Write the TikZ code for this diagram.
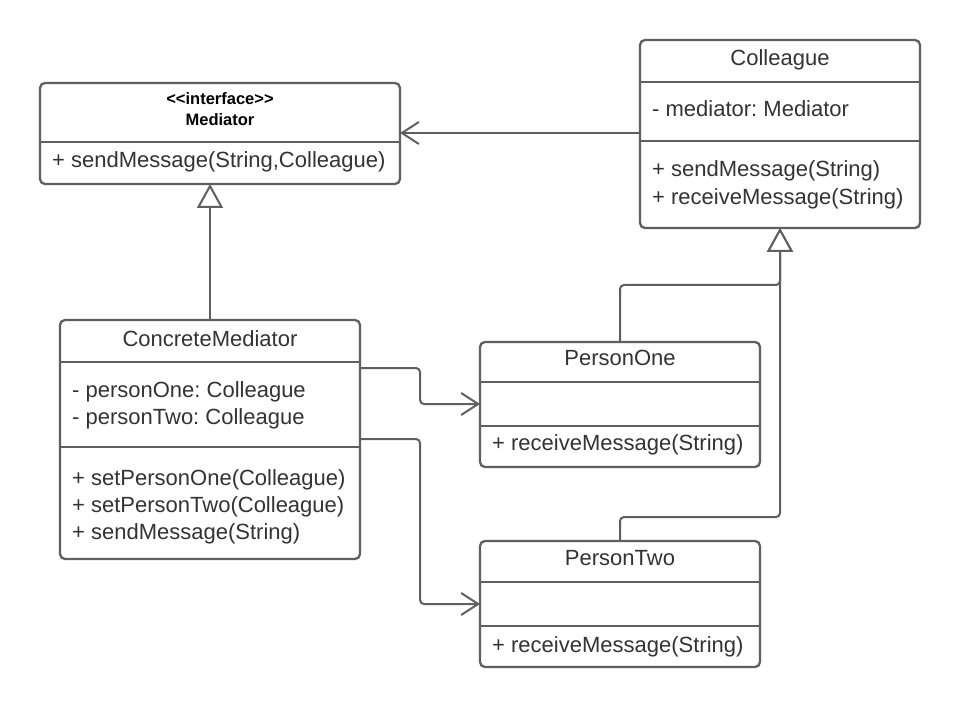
\documentclass[tikz,border=0pt]{standalone}
\usepackage{fontspec}
\setmainfont{Liberation Sans}
\usetikzlibrary{arrows.meta}
\definecolor{linegray}{HTML}{5F5F5F}
\definecolor{textgray}{HTML}{333333}
\frenchspacing

\begin{document}
\begin{tikzpicture}[x=1pt, y=-1pt,
    classbox/.style={draw=linegray, line width=2.3pt, rounded corners=5pt, fill=white, inner sep=0pt, outer sep=0pt},
    divider/.style={draw=linegray, line width=2.3pt},
    member/.style={anchor=base west, inner sep=0pt, text=textgray, font=\fontsize{22}{26}\selectfont},
    classname/.style={anchor=base, inner sep=0pt, text=textgray, font=\fontsize{22}{26}\selectfont},
    stereo/.style={anchor=base, inner sep=0pt, text=black, font=\bfseries\fontsize{16.5}{20}\selectfont},
    conn/.style={draw=linegray, line width=2pt, rounded corners=4pt},
    assoc/.style={conn, -{Straight Barb[length=17pt, width=22pt, line width=2pt]}},
    realize/.style={conn, -{Triangle[open, length=24pt, width=26pt, fill=white, line width=2pt]}}]
				% Page
				\fill[white] (0,0) rectangle (960,708);
				\useasboundingbox (0,0) rectangle (960,708);
				% Mediator
				\node[classbox, minimum width=360pt, minimum height=101pt] (mediator) at (220,133.5) {};
				\draw[divider] (mediator.west |- 0,142) -- (mediator.east |- 0,142);
				\node[stereo] (med-st) at (220,105) {<{}<interface>{}>};
				\node[stereo] (med-name) at (220,126) {Mediator};
				\node[member] (med-m1) at (52,168) {+ sendMessage(String,Colleague)};
				% Colleague
				\node[classbox, minimum width=280pt, minimum height=188pt] (colleague) at (780,134) {};
				\draw[divider] (colleague.west |- 0,82) -- (colleague.east |- 0,82);
				\draw[divider] (colleague.west |- 0,141) -- (colleague.east |- 0,141);
				\node[classname] (col-name) at (780,66) {Colleague};
				\node[member] (col-a1) at (652,117) {- mediator: Mediator};
				\node[member] (col-m1) at (652,177) {+ sendMessage(String)};
				\node[member] (col-m2) at (652,205) {+ receiveMessage(String)};
				% ConcreteMediator
				\node[classbox, minimum width=300pt, minimum height=239pt] (cmed) at (210,439.5) {};
				\draw[divider] (cmed.west |- 0,362) -- (cmed.east |- 0,362);
				\draw[divider] (cmed.west |- 0,447) -- (cmed.east |- 0,447);
				\node[classname] (cmed-name) at (210,346) {ConcreteMediator};
				\node[member] (cmed-a1) at (72,397) {- personOne: Colleague};
				\node[member] (cmed-a2) at (72,424) {- personTwo: Colleague};
				\node[member] (cmed-m1) at (72,485) {+ setPersonOne(Colleague)};
				\node[member] (cmed-m2) at (72,512) {+ setPersonTwo(Colleague)};
				\node[member] (cmed-m3) at (72,539) {+ sendMessage(String)};
				% PersonOne
				\node[classbox, minimum width=280pt, minimum height=125pt] (pone) at (620,404.5) {};
				\draw[divider] (pone.west |- 0,382) -- (pone.east |- 0,382);
				\draw[divider] (pone.west |- 0,426) -- (pone.east |- 0,426);
				\node[classname] (pone-name) at (620,365) {PersonOne};
				\node[member] (pone-m1) at (492,450) {+ receiveMessage(String)};
				% PersonTwo
				\node[classbox, minimum width=280pt, minimum height=126pt] (ptwo) at (620,604) {};
				\draw[divider] (ptwo.west |- 0,582) -- (ptwo.east |- 0,582);
				\draw[divider] (ptwo.west |- 0,626) -- (ptwo.east |- 0,626);
				\node[classname] (ptwo-name) at (620,565) {PersonTwo};
				\node[member] (ptwo-m1) at (492,652) {+ receiveMessage(String)};
				% Connectors
				\draw[assoc] (colleague.west |- 0,133) -- (mediator.east |- 0,133);
				\draw[realize] (cmed.north) -- (cmed.north |- mediator.south);
				\draw[realize] (pone.north) -- (pone.north |- 0,285) -| (colleague.south);
				\draw[realize] (ptwo.north) -- (ptwo.north |- 0,517) -| (colleague.south);
				\draw[assoc] (cmed.east |- 0,368) -- (420,368) |- (pone.west |- 0,404);
				\draw[assoc] (cmed.east |- 0,439) -- (420,439) |- (ptwo.west |- 0,604);
			\end{tikzpicture}
\end{document}
